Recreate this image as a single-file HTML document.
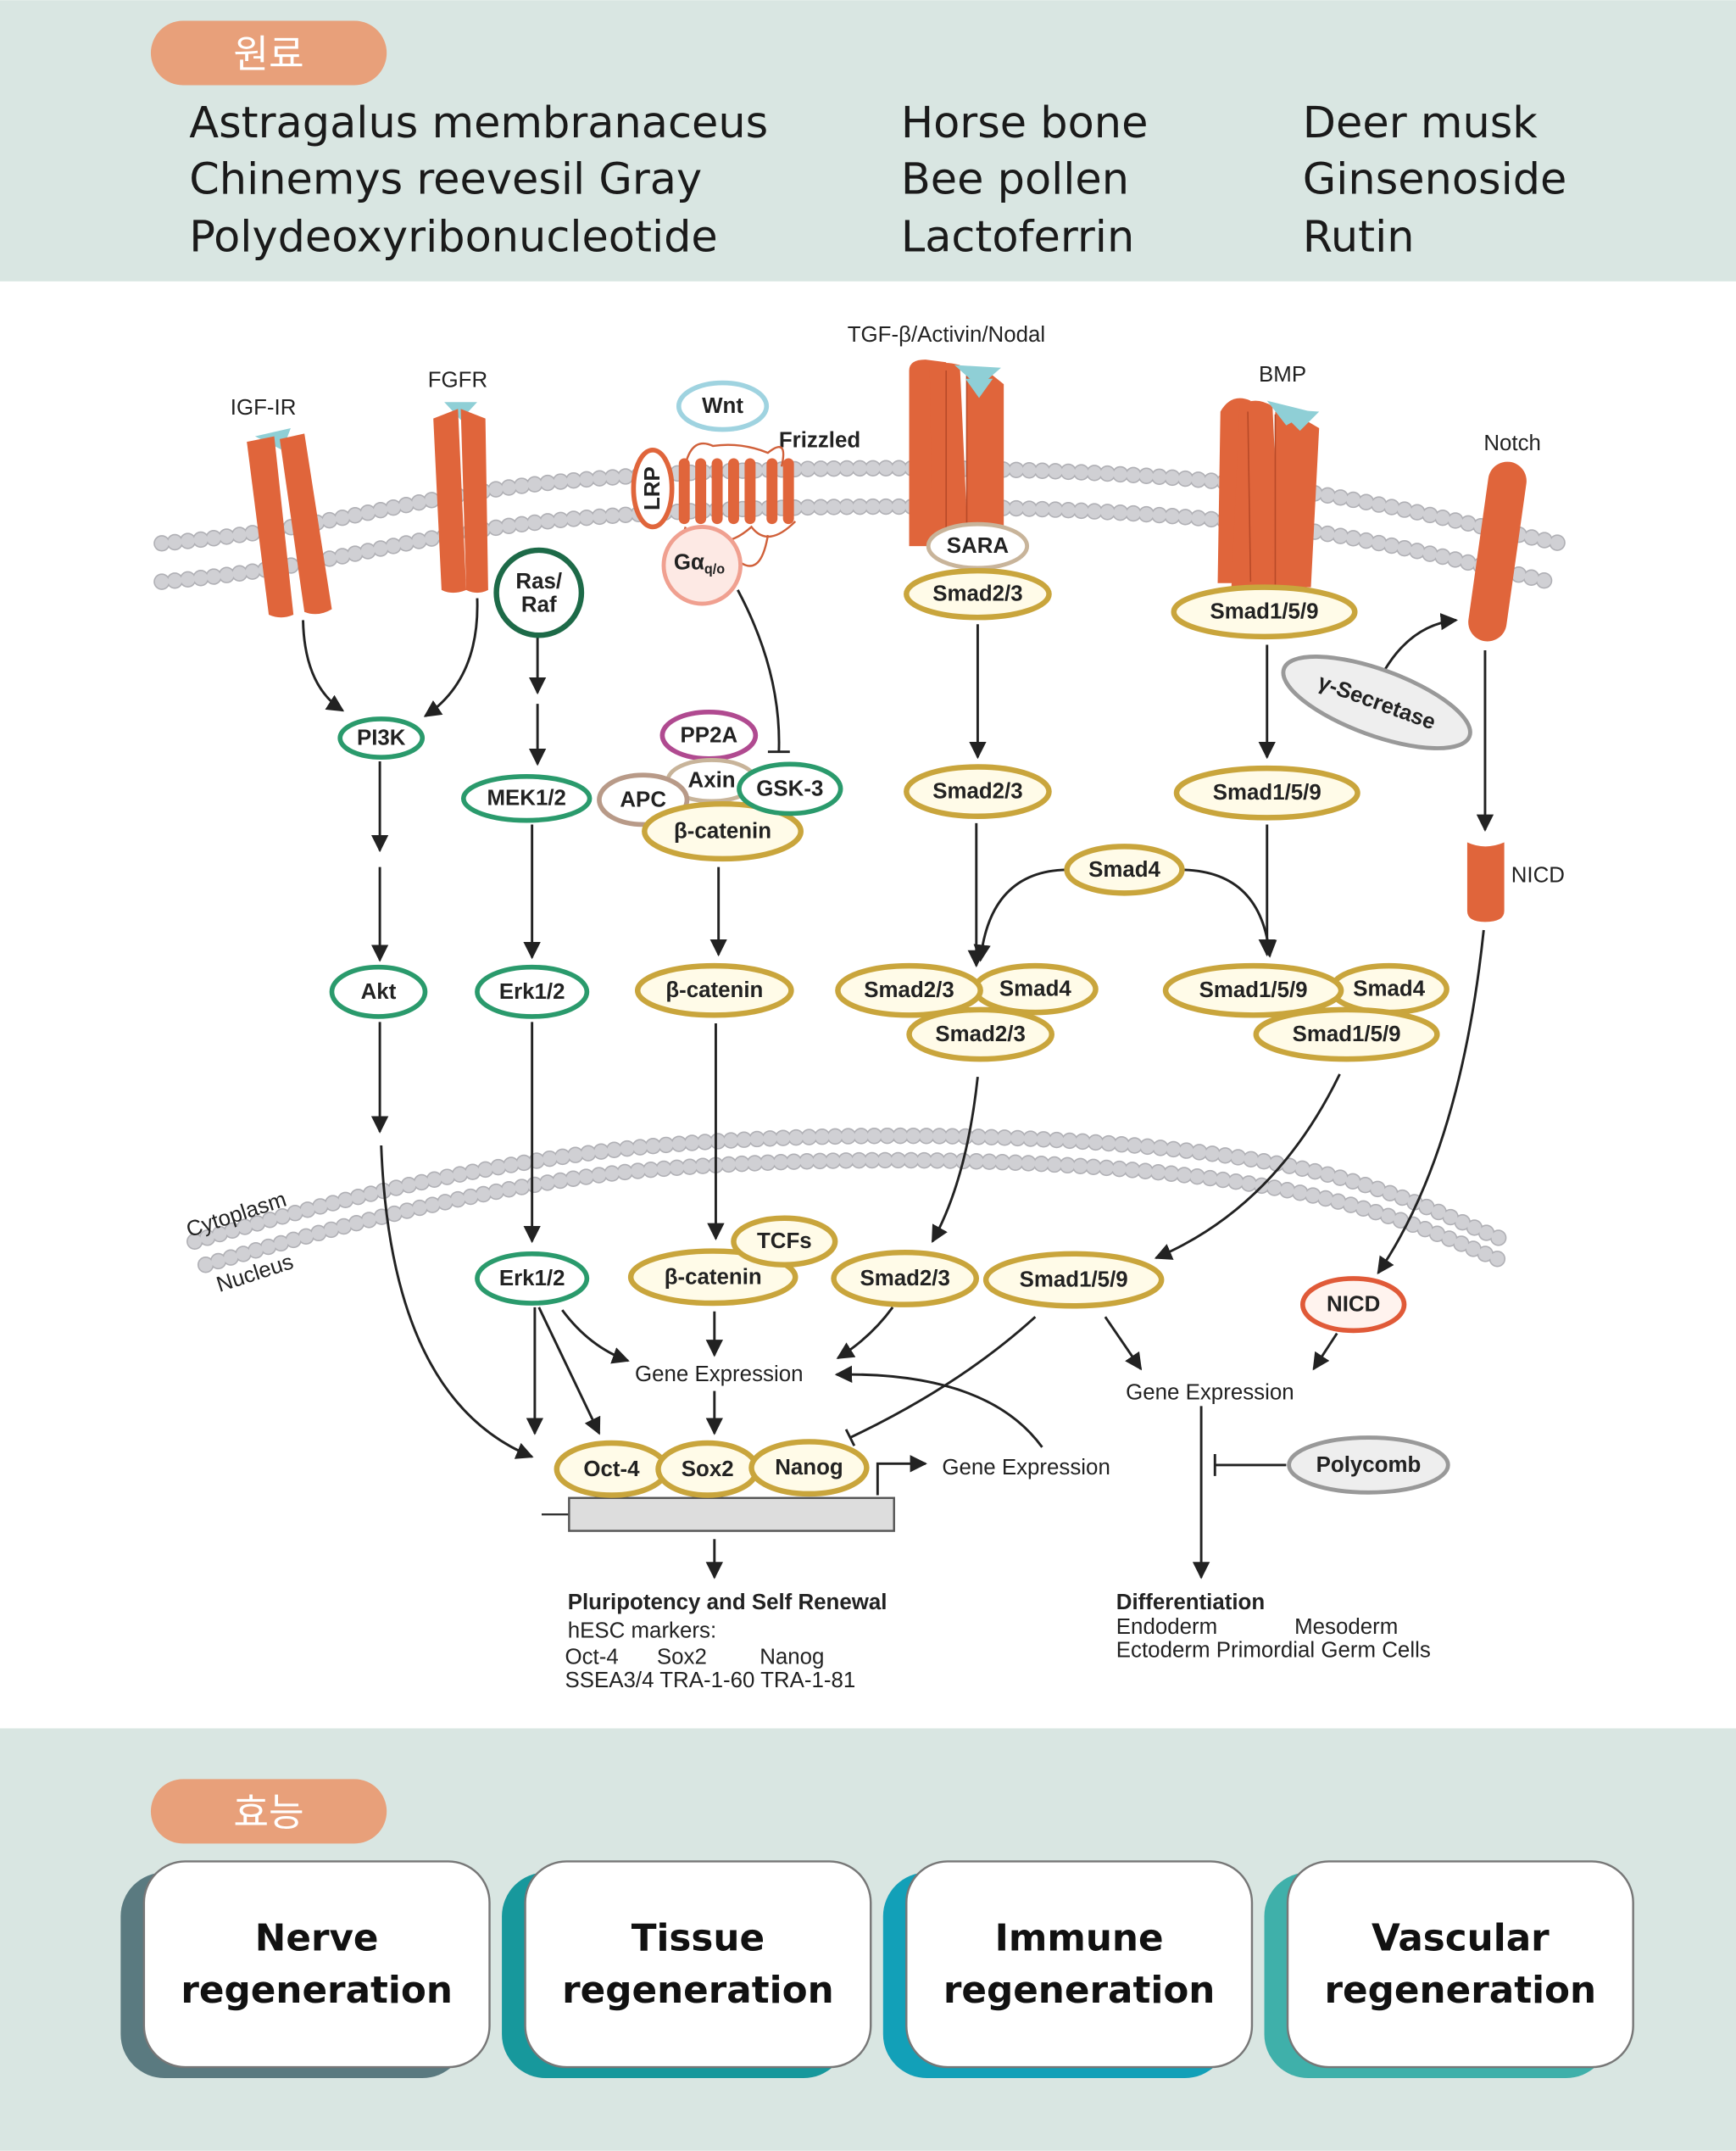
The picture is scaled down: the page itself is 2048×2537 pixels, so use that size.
<!DOCTYPE html>
<html><head><meta charset="utf-8"><style>
html,body{margin:0;padding:0;background:#fff}
svg{display:block}
text{font-family:"Liberation Sans","Noto Sans CJK KR",sans-serif}
.n{font-weight:bold;font-size:16px;fill:#222;text-anchor:middle;dominant-baseline:central}
.l{font-size:16px;fill:#222}
.big{font-size:31.5px;fill:#1a1a1a;font-family:"DejaVu Sans","Liberation Sans",sans-serif}
.card{font-size:27px;font-weight:bold;fill:#111;text-anchor:middle;font-family:"DejaVu Sans","Liberation Sans",sans-serif}
.a{fill:none;stroke:#222;stroke-width:1.8;marker-end:url(#ar)}
.mem{fill:none;stroke:#d0d0d4;stroke-width:10;stroke-dasharray:0 9.5;stroke-linecap:round}
.memo{fill:none;stroke:#b0b0b5;stroke-width:12;stroke-dasharray:0 9.5;stroke-linecap:round}
.g{fill:#fff;stroke:#2a9a6c;stroke-width:3.5}
.y{fill:#fffbe8;stroke:#c9a53c;stroke-width:4}
.r{fill:#e0653b}
</style></head><body>
<svg width="2048" height="2537" viewBox="0 0 1266 1568" xmlns="http://www.w3.org/2000/svg">
<defs>
<marker id="ar" viewBox="0 0 10 10" refX="9" refY="5" markerWidth="7" markerHeight="7" orient="auto-start-reverse"><path d="M0,0 L10,5 L0,10 z" fill="#222"/></marker>
</defs>
<rect x="0" y="0" width="1266" height="1568" fill="#fff"/>
<rect x="0" y="0" width="1266" height="205" fill="#d9e6e2"/>
<rect x="0" y="1260" width="1266" height="308" fill="#d9e6e2"/>
<rect x="110" y="15" width="172" height="47" rx="23.5" fill="#e8a07a"/>
<text x="196" y="49" text-anchor="middle" font-size="28" fill="#fff" font-family="Noto Sans CJK KR,sans-serif">원료</text>
<text class="big" x="138" y="100">Astragalus membranaceus</text>
<text class="big" x="138" y="141">Chinemys reevesil Gray</text>
<text class="big" x="138" y="183">Polydeoxyribonucleotide</text>
<text class="big" x="657" y="100">Horse bone</text>
<text class="big" x="657" y="141">Bee pollen</text>
<text class="big" x="657" y="183">Lactoferrin</text>
<text class="big" x="950" y="100">Deer musk</text>
<text class="big" x="950" y="141">Ginsenoside</text>
<text class="big" x="950" y="183">Rutin</text>

<!-- plasma membrane -->
<path class="memo" d="M118,396 C250,385 300,360 420,350 C560,338 760,338 900,352 C1000,362 1080,385 1138,396"/>
<path class="memo" d="M118,424 C250,413 300,388 420,378 C560,366 760,366 900,380 C1000,390 1080,413 1130,424"/>
<path class="mem" d="M118,396 C250,385 300,360 420,350 C560,338 760,338 900,352 C1000,362 1080,385 1138,396"/>
<path class="mem" d="M118,424 C250,413 300,388 420,378 C560,366 760,366 900,380 C1000,390 1080,413 1130,424"/>
<!-- nuclear membrane -->
<path class="memo" d="M142,905 C260,870 350,850 450,838 C600,822 800,825 930,848 C1020,864 1070,895 1100,905"/>
<path class="memo" d="M150,922 C260,890 350,867 450,855 C600,840 800,843 930,866 C1020,882 1070,910 1098,920"/>
<path class="mem" d="M142,905 C260,870 350,850 450,838 C600,822 800,825 930,848 C1020,864 1070,895 1100,905"/>
<path class="mem" d="M150,922 C260,890 350,867 450,855 C600,840 800,843 930,866 C1020,882 1070,910 1098,920"/>
<text class="l" font-size="14" transform="translate(138,902) rotate(-18)">Cytoplasm</text>
<text class="l" font-size="14" transform="translate(160,942) rotate(-18)">Nucleus</text>

<!-- receptors -->
<text class="l" x="168" y="302">IGF-IR</text>
<polygon points="186,318 212,312 206,328" fill="#8fcfd6"/>
<path class="r" d="M180,322 L200,318 L214,448 Q205,452 196,448 Z"/>
<path class="r" d="M204,320 L222,316 L242,444 Q232,450 222,446 Z"/>
<text class="l" x="312" y="282">FGFR</text>
<polygon points="324,293 348,293 336,306" fill="#8fcfd6"/>
<path class="r" d="M316,305 L334,298 L340,430 Q330,434 322,430 Z"/>
<path class="r" d="M336,298 L354,305 L356,430 Q348,434 340,430 Z"/>
<!-- Frizzled -->
<text class="l" x="568" y="326" font-size="15" font-weight="bold">Frizzled</text>
<path d="M500,338 Q505,318 520,325 Q540,322 560,330 Q575,318 570,340 M500,384 Q495,398 515,392 Q530,400 548,384 Q560,400 580,380 M520,390 Q520,410 505,412 M560,390 Q555,420 540,410" fill="none" stroke="#d0603a" stroke-width="1.5"/>
<g fill="#e0653b"><rect x="495" y="334" width="8" height="48" rx="4"/><rect x="507" y="334" width="8" height="48" rx="4"/><rect x="519" y="334" width="8" height="48" rx="4"/><rect x="531" y="334" width="8" height="48" rx="4"/><rect x="543" y="334" width="8" height="48" rx="4"/><rect x="559" y="334" width="8" height="48" rx="4"/><rect x="571" y="334" width="8" height="48" rx="4"/></g>
<ellipse cx="527" cy="296" rx="32" ry="17" fill="#fff" stroke="#9fd3e0" stroke-width="3.5"/><text class="n" x="527" y="296">Wnt</text>
<ellipse cx="476" cy="356" rx="14" ry="28" fill="#fff" stroke="#e0653b" stroke-width="3.5"/><text class="n" transform="translate(476,356) rotate(-90)" x="0" y="0" font-size="14">LRP</text>
<circle cx="512" cy="412" r="28" fill="#fde9e4" stroke="#f0a090" stroke-width="3"/><text class="n" x="510" y="410" font-size="15">Gα<tspan font-size="10" dy="5">q/o</tspan></text>
<!-- TGF -->
<text class="l" x="618" y="249">TGF-β/Activin/Nodal</text>
<path class="r" d="M663,270 Q663,262 675,262 L690,264 L690,398 L663,398 Z"/>
<path class="r" d="M678,268 Q685,262 700,266 L706,398 L680,398 Z"/>
<path class="r" d="M705,270 L722,272 L732,280 L732,398 L705,398 Z"/>
<line x1="690" y1="270" x2="690" y2="396" stroke="#b84a28" stroke-width="1"/>
<line x1="705" y1="272" x2="705" y2="396" stroke="#b84a28" stroke-width="1"/>
<polygon points="696,266 730,268 714,282" fill="#8fcfd6"/>
<polygon points="704,276 724,276 714,290" fill="#8fcfd6"/>
<!-- BMP -->
<text class="l" x="918" y="278">BMP</text>
<path class="r" d="M890,300 Q898,286 912,292 L916,425 L888,425 Z"/>
<path class="r" d="M904,296 Q915,288 928,296 L934,428 L898,428 Z"/>
<path class="r" d="M930,300 L950,305 L962,312 L956,428 L928,428 Z"/>
<line x1="910" y1="300" x2="912" y2="424" stroke="#b84a28" stroke-width="1"/>
<line x1="930" y1="302" x2="930" y2="426" stroke="#b84a28" stroke-width="1"/>
<polygon points="924,292 956,300 938,310" fill="#8fcfd6"/>
<polygon points="932,298 962,300 948,314" fill="#8fcfd6"/>
<!-- Notch -->
<text class="l" x="1082" y="328">Notch</text>
<rect x="1078" y="336" width="28" height="132" rx="14" class="r" transform="rotate(8 1092 402)"/>
<path class="r" d="M1070,614 Q1083,620 1097,614 L1097,664 Q1097,672 1083,672 Q1070,672 1070,664 Z"/>
<text class="l" x="1102" y="643">NICD</text>

<!-- arrows -->
<path class="a" d="M221,452 Q222,500 250,518"/>
<path class="a" d="M348,436 Q350,495 310,522"/>
<path class="a" d="M392,460 L392,505"/>
<path class="a" d="M392,513 L392,557"/>
<path class="a" d="M277,555 L277,620"/>
<path class="a" d="M277,632 L277,700"/>
<path class="a" d="M388,601 L388,698"/>
<path class="a" d="M277,745 L277,825"/>
<path class="a" d="M278,835 Q285,1020 388,1062"/>
<path class="a" d="M388,745 L388,905"/>
<path class="a" d="M390,953 L390,1045"/>
<path class="a" d="M393,953 L437,1045"/>
<path class="a" d="M410,955 Q430,982 458,992"/>
<path d="M538,430 Q570,490 568,548 M560,548 L576,548" fill="none" stroke="#222" stroke-width="1.8"/>
<path class="a" d="M524,632 L524,696"/>
<path class="a" d="M522,746 L522,903"/>
<path class="a" d="M521,956 L521,988"/>
<path class="a" d="M521,1014 L521,1045"/>
<path class="a" d="M713,455 L713,552"/>
<path class="a" d="M712,600 L712,704"/>
<path class="a" d="M778,634 Q722,635 715,700"/>
<path class="a" d="M924,470 L924,552"/>
<path class="a" d="M862,634 Q920,635 926,697"/>
<path class="a" d="M924,601 L924,696"/>
<path class="a" d="M713,785 Q705,860 680,905"/>
<path class="a" d="M977,783 Q930,880 843,917"/>
<path class="a" d="M651,953 Q635,975 611,990"/>
<path d="M755,960 Q700,1010 620,1048 M617,1042 L623,1054" fill="none" stroke="#222" stroke-width="1.8"/>
<path class="a" d="M806,960 L832,998"/>
<path class="a" d="M1083,474 L1083,605"/>
<path class="a" d="M1082,678 Q1065,840 1005,928"/>
<path class="a" d="M975,972 L958,998"/>
<path class="a" d="M1010,488 Q1030,455 1062,452"/>
<path class="a" d="M760,1055 Q720,1000 610,1002"/>
<path class="a" d="M640,1090 L640,1067 L675,1067"/>
<path class="a" d="M876,1025 L876,1150"/>
<path d="M938,1068 L886,1068 M886,1060 L886,1076" fill="none" stroke="#222" stroke-width="1.8"/>
<path class="a" d="M521,1122 L521,1150"/>

<!-- nodes -->
<ellipse class="g" cx="278" cy="538" rx="30" ry="14"/><text class="n" x="278" y="538">PI3K</text>
<circle cx="393" cy="432" r="31" fill="#fff" stroke="#1d6a48" stroke-width="4"/><text class="n" x="393" y="424">Ras/</text><text class="n" x="393" y="441">Raf</text>
<ellipse class="g" cx="384" cy="582" rx="46" ry="16"/><text class="n" x="384" y="582">MEK1/2</text>
<ellipse class="g" cx="276" cy="723" rx="34" ry="18"/><text class="n" x="276" y="723">Akt</text>
<ellipse class="g" cx="388" cy="723" rx="40" ry="18"/><text class="n" x="388" y="723">Erk1/2</text>
<ellipse class="g" cx="388" cy="932" rx="40" ry="18"/><text class="n" x="388" y="932">Erk1/2</text>
<ellipse cx="517" cy="536" rx="34" ry="17" fill="#fff" stroke="#b04a90" stroke-width="3.5"/><text class="n" x="517" y="536">PP2A</text>
<ellipse cx="519" cy="569" rx="32" ry="15" fill="#fff" stroke="#c8b49a" stroke-width="3"/><text class="n" x="519" y="569">Axin</text>
<ellipse cx="469" cy="583" rx="32" ry="18" fill="#fff" stroke="#b89a88" stroke-width="3.5"/><text class="n" x="469" y="583">APC</text>
<ellipse class="y" cx="527" cy="606" rx="57" ry="20"/><text class="n" x="527" y="606">β-catenin</text>
<ellipse class="g" cx="576" cy="575" rx="37" ry="18"/><text class="n" x="576" y="575">GSK-3</text>
<ellipse class="y" cx="521" cy="722" rx="56" ry="18"/><text class="n" x="521" y="722">β-catenin</text>
<ellipse class="y" cx="520" cy="931" rx="60" ry="19"/><text class="n" x="520" y="931">β-catenin</text>
<ellipse class="y" cx="572" cy="905" rx="37" ry="17"/><text class="n" x="572" y="905">TCFs</text>
<ellipse cx="713" cy="398" rx="36" ry="16" fill="#fff" stroke="#c8b49a" stroke-width="3"/><text class="n" x="713" y="398">SARA</text>
<ellipse class="y" cx="713" cy="433" rx="52" ry="17"/><text class="n" x="713" y="433">Smad2/3</text>
<ellipse class="y" cx="713" cy="577" rx="52" ry="18"/><text class="n" x="713" y="577">Smad2/3</text>
<ellipse class="y" cx="820" cy="634" rx="42" ry="17"/><text class="n" x="820" y="634">Smad4</text>
<ellipse class="y" cx="755" cy="721" rx="44" ry="17"/><text class="n" x="755" y="721">Smad4</text>
<ellipse class="y" cx="663" cy="722" rx="52" ry="18"/><text class="n" x="663" y="722">Smad2/3</text>
<ellipse class="y" cx="715" cy="754" rx="52" ry="18"/><text class="n" x="715" y="754">Smad2/3</text>
<ellipse class="y" cx="660" cy="932" rx="52" ry="19"/><text class="n" x="660" y="932">Smad2/3</text>
<ellipse class="y" cx="922" cy="446" rx="66" ry="18"/><text class="n" x="922" y="446">Smad1/5/9</text>
<ellipse class="y" cx="924" cy="578" rx="66" ry="18"/><text class="n" x="924" y="578">Smad1/5/9</text>
<ellipse class="y" cx="1013" cy="721" rx="42" ry="17"/><text class="n" x="1013" y="721">Smad4</text>
<ellipse class="y" cx="914" cy="722" rx="64" ry="18"/><text class="n" x="914" y="722">Smad1/5/9</text>
<ellipse class="y" cx="982" cy="754" rx="66" ry="18"/><text class="n" x="982" y="754">Smad1/5/9</text>
<ellipse class="y" cx="783" cy="933" rx="64" ry="19"/><text class="n" x="783" y="933">Smad1/5/9</text>
<ellipse cx="987" cy="951" rx="37" ry="19" fill="#fff3ee" stroke="#e05a38" stroke-width="3.5"/><text class="n" x="987" y="951">NICD</text>
<ellipse cx="998" cy="1068" rx="58" ry="20" fill="#eee" stroke="#999" stroke-width="3"/><text class="n" x="998" y="1068">Polycomb</text>
<g transform="rotate(20 1004 512)"><ellipse cx="1004" cy="512" rx="72" ry="24" fill="#eee" stroke="#999" stroke-width="3"/><text class="n" x="1004" y="512">γ-Secretase</text></g>
<line x1="395" y1="1104" x2="415" y2="1104" stroke="#333" stroke-width="1.5"/>
<rect x="415" y="1092" width="237" height="24" fill="#ddd" stroke="#555" stroke-width="1.5"/>
<ellipse class="y" cx="446" cy="1071" rx="40" ry="19"/><text class="n" x="446" y="1071">Oct-4</text>
<ellipse class="y" cx="516" cy="1071" rx="36" ry="19"/><text class="n" x="516" y="1071">Sox2</text>
<ellipse class="y" cx="590" cy="1070" rx="42" ry="19"/><text class="n" x="590" y="1070">Nanog</text>

<text class="l" x="463" y="1007">Gene Expression</text>
<text class="l" x="821" y="1020">Gene Expression</text>
<text class="l" x="687" y="1075">Gene Expression</text>
<text class="l" x="414" y="1173" font-weight="bold">Pluripotency and Self Renewal</text>
<text class="l" x="414" y="1194">hESC markers:</text>
<text class="l" x="412" y="1213" font-size="14">Oct-4</text><text class="l" x="479" y="1213" font-size="14">Sox2</text><text class="l" x="554" y="1213" font-size="14">Nanog</text>
<text class="l" x="412" y="1230" font-size="14">SSEA3/4 TRA-1-60 TRA-1-81</text>
<text class="l" x="814" y="1173" font-weight="bold">Differentiation</text>
<text class="l" x="814" y="1191" font-size="14">Endoderm</text><text class="l" x="944" y="1191" font-size="14">Mesoderm</text>
<text class="l" x="814" y="1208" font-size="14">Ectoderm Primordial Germ Cells</text>

<!-- bottom -->
<rect x="110" y="1297" width="172" height="47" rx="23.5" fill="#e8a07a"/>
<text x="196" y="1331" text-anchor="middle" font-size="28" fill="#fff" font-family="Noto Sans CJK KR,sans-serif">효능</text>
<rect x="88" y="1365" width="252" height="150" rx="32" fill="#5a7a80"/>
<rect x="105" y="1357" width="252" height="150" rx="30" fill="#fff" stroke="#777" stroke-width="1.5"/>
<text class="card" x="231" y="1422">Nerve</text><text class="card" x="231" y="1460">regeneration</text>
<rect x="366" y="1365" width="252" height="150" rx="32" fill="#17989c"/>
<rect x="383" y="1357" width="252" height="150" rx="30" fill="#fff" stroke="#777" stroke-width="1.5"/>
<text class="card" x="509" y="1422">Tissue</text><text class="card" x="509" y="1460">regeneration</text>
<rect x="644" y="1365" width="252" height="150" rx="32" fill="#12a0b8"/>
<rect x="661" y="1357" width="252" height="150" rx="30" fill="#fff" stroke="#777" stroke-width="1.5"/>
<text class="card" x="787" y="1422">Immune</text><text class="card" x="787" y="1460">regeneration</text>
<rect x="922" y="1365" width="252" height="150" rx="32" fill="#3fb0aa"/>
<rect x="939" y="1357" width="252" height="150" rx="30" fill="#fff" stroke="#777" stroke-width="1.5"/>
<text class="card" x="1065" y="1422">Vascular</text><text class="card" x="1065" y="1460">regeneration</text>
</svg>
</body></html>
